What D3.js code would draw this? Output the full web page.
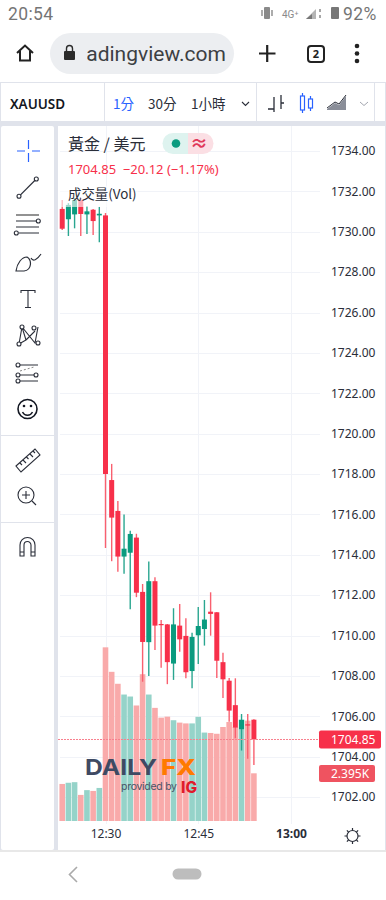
<!DOCTYPE html>
<html>
<head>
<meta charset="utf-8">
<script src="https://cdn.jsdelivr.net/npm/d3@7/dist/d3.min.js"></script>
<style>
  html, body { margin: 0; padding: 0; background: #fff; }
  svg { display: block; font-family: "Noto Sans", "Noto Sans CJK TC", sans-serif; }
</style>
</head>
<body>
<div id="chart"></div>
<script>
//*************************1. Data
const times = ["12:23","12:24","12:25","12:26","12:27","12:28","12:29","12:30","12:31","12:32","12:33","12:34","12:35","12:36","12:37","12:38","12:39","12:40","12:41","12:42","12:43","12:44","12:45","12:46","12:47","12:48","12:49","12:50","12:51","12:52","12:53","12:54"]
const opens = [1731.13,1730.62,1730.86,1731.57,1730.86,1731.09,1730.81,1730.81,1717.70,1716.17,1713.91,1714.10,1714.85,1712.16,1709.67,1712.69,1710.57,1710.55,1708.61,1710.49,1709.98,1708.24,1710.01,1710.32,1711.18,1711.15,1708.68,1707.76,1706.55,1705.36,1705.60,1705.83]
const highs = [1731.57,1731.42,1731.67,1731.67,1731.28,1731.13,1731.23,1730.93,1718.50,1716.66,1715.99,1715.19,1715.04,1712.55,1713.66,1712.89,1710.77,1710.57,1711.35,1711.56,1710.85,1710.14,1711.41,1711.76,1712.14,1711.17,1709.14,1707.90,1707.88,1706.11,1706.11,1705.85]
const lows = [1730.09,1729.79,1730.17,1729.79,1729.89,1729.84,1729.48,1714.34,1713.68,1713.16,1713.06,1711.30,1711.90,1707.71,1708.00,1709.28,1708.40,1707.59,1707.80,1709.20,1707.88,1707.39,1708.59,1709.50,1709.99,1707.90,1706.91,1705.73,1704.91,1704.30,1703.89,1703.59]
const closes = [1730.15,1731.33,1731.57,1730.88,1731.01,1730.53,1730.89,1718.00,1715.84,1713.91,1714.30,1715.03,1712.12,1709.68,1712.69,1710.49,1710.51,1708.68,1710.55,1709.81,1708.18,1709.93,1710.47,1710.79,1711.07,1708.75,1707.83,1706.28,1705.44,1705.82,1705.54,1704.85]
const volumes = [1.86,1.92,1.95,1.31,1.55,1.51,1.66,8.72,7.49,6.89,6.35,6.25,5.80,7.37,6.35,5.68,5.19,5.24,5.06,4.94,4.90,4.90,5.23,4.44,4.42,4.38,4.72,4.97,4.72,5.09,5.04,2.395]
const priceTicks = [1734,1732,1730,1728,1726,1724,1722,1720,1718,1716,1714,1712,1710,1708,1706,1704,1702]
const timeTicks = ["12:30","12:45","13:00"]
const lastPrice = 1704.85
const lastVolume = "2.395K"

const RED = "#f7304a"
const GREEN = "#0a9b7f"
const WICK_RED = "#f9606f"
const WICK_GREEN = "#2aa690"
const VOL_RED = "#f9aaaa"
const VOL_GREEN = "#95d3c9"
const GRID = "#f1f3f8"
const BAND = "#e0e3eb"
const INK = "#2a2e39"

//*************************2. Wrapper
const wrapper = d3.select("#chart").append("svg")
    .attr("width", 386)
    .attr("height", 900)
    .attr("viewBox", "0 0 386 900")

wrapper.append("rect").attr("width", 386).attr("height", 900).attr("fill", "#fff")

const addText = (parent, x, y, str, size, fill, extra = {}) => {
    const t = parent.append("text").attr("x", x).attr("y", y)
        .attr("font-size", size).attr("fill", fill).text(str)
    Object.entries(extra).forEach(([k, v]) => t.attr(k, v))
    return t
}
const stroke = (parent, d, color = INK, w = 1.2) => parent.append("path")
    .attr("d", d).attr("fill", "none").attr("stroke", color).attr("stroke-width", w)
const ring = (parent, cx, cy, r, color = INK, w = 1.1) => parent.append("circle")
    .attr("cx", cx).attr("cy", cy).attr("r", r)
    .attr("fill", "#fff").attr("stroke", color).attr("stroke-width", w)

//*************************3. Phone + browser chrome
const chrome = wrapper.append("g")
addText(chrome, 8, 20, "20:54", 17.5, "#757575", { "font-family": "Roboto", "letter-spacing": 0.4 })
stroke(chrome, "M262 10v6M272 10v6", "#8a8a8a", 1.4)
chrome.append("rect").attr("x", 264).attr("y", 7).attr("width", 6).attr("height", 12).attr("rx", 1).attr("fill", "#8a8a8a")
addText(chrome, 282, 18, "4G⁺", 10, "#8a8a8a", { "font-family": "Roboto" })
chrome.append("path").attr("d", "M306 19 L316 19 L316 9 Z").attr("fill", "#b5b5b5")
chrome.append("path").attr("d", "M306 19 L312 19 L312 14 Z").attr("fill", "#777")
stroke(chrome, "M320 9v3M320 15v3", "#8a8a8a", 1.5)
chrome.append("rect").attr("x", 331).attr("y", 7).attr("width", 8).attr("height", 12).attr("rx", 1).attr("fill", "#777")
addText(chrome, 343, 20, "92%", 17.5, "#757575", { "font-family": "Roboto", "letter-spacing": 0.4 })

chrome.append("rect").attr("x", 50).attr("y", 33).attr("width", 184).attr("height", 41).attr("rx", 20.5).attr("fill", "#eceef1")
stroke(chrome, "M17 53 L25 45.5 L33 53 M20 51 V60.5 H30 V51", "#222", 2)
chrome.append("rect").attr("x", 64).attr("y", 51).attr("width", 11).attr("height", 9).attr("rx", 1).attr("fill", "#2b2b2b")
stroke(chrome, "M66.5 51 V48.5 a3 3 0 0 1 6 0 V51", "#2b2b2b", 1.4)
const urlClip = wrapper.append("clipPath").attr("id", "urlClip")
urlClip.append("rect").attr("x", 87).attr("y", 36).attr("width", 142).attr("height", 34)
addText(chrome, 79.5, 61, "radingview.com", 21, "#3c4043", { "clip-path": "url(#urlClip)", "font-family": "Roboto" })
stroke(chrome, "M259 53.5 H275.5 M267.2 45 V62", "#222", 2.2)
chrome.append("rect").attr("x", 308).attr("y", 46).attr("width", 16).attr("height", 16).attr("rx", 3)
    .attr("fill", "none").attr("stroke", "#222").attr("stroke-width", 2)
addText(chrome, 316, 58, "2", 11, "#222", { "text-anchor": "middle", "font-weight": 700 })
chrome.selectAll(".dot").data([46, 53.5, 61]).join("circle")
    .attr("cx", 357).attr("cy", d => d).attr("r", 2.3).attr("fill", "#222")

// bottom navigation
wrapper.append("rect").attr("x", 0).attr("y", 850).attr("width", 386).attr("height", 2).attr("fill", "#e8e8e8")
stroke(chrome, "M77 867 L69.5 874.5 L77 882", "#aaa", 1.6)
chrome.append("rect").attr("x", 172.5).attr("y", 868.5).attr("width", 29).attr("height", 11).attr("rx", 5.5).attr("fill", "#bdbdbd")

//*************************4. Toolbars
wrapper.append("rect").attr("x", 0).attr("y", 82).attr("width", 386).attr("height", 768).attr("fill", BAND)
wrapper.append("rect").attr("x", 1).attr("y", 83).attr("width", 384).attr("height", 38).attr("fill", "#fff")
wrapper.append("rect").attr("x", 1).attr("y", 126).attr("width", 53).attr("height", 724).attr("rx", 2).attr("fill", "#fff")
wrapper.append("rect").attr("x", 58).attr("y", 126).attr("width", 327).attr("height", 724).attr("fill", "#fff")

const top_ = wrapper.append("g")
stroke(top_, "M104.5 83V121M256.5 83V121M374.5 83V121", BAND, 1)
addText(top_, 10, 109, "XAUUSD", 13.5, "#131722", { "font-weight": 600 })
addText(top_, 113, 109, "1分", 13.5, "#2962ff", { "font-family": "Noto Sans CJK TC" })
addText(top_, 148, 109, "30分", 13.5, INK, { "font-family": "Noto Sans CJK TC" })
addText(top_, 191, 109, "1小時", 13.5, INK, { "font-family": "Noto Sans CJK TC" })
stroke(top_, "M242 102 L245.5 105.5 L249 102", INK, 1.1)
stroke(top_, "M274 97V112M268 109H274M281 95V109M281 103H284", INK, 1.3)
top_.append("rect").attr("x", 300.5).attr("y", 96).attr("width", 4).attr("height", 14).attr("fill", "none").attr("stroke", "#2962ff").attr("stroke-width", 1.2)
top_.append("rect").attr("x", 308.5).attr("y", 99).attr("width", 4).attr("height", 9).attr("fill", "none").attr("stroke", "#2962ff").attr("stroke-width", 1.2)
stroke(top_, "M302.5 93V96M302.5 110V113M310.5 96V99M310.5 108V111", "#2962ff", 1.2)
top_.append("path").attr("d", "M327 109 L335 103 L339 105 L346 96 V110 H327 Z").attr("fill", "#8a8e99")
stroke(top_, "M327 108 L335 102 L339 104 L346 95", INK, 1)
stroke(top_, "M360 102 L364 105.5 L368 102", "#a3a6af", 1)

const tools = wrapper.append("g")
stroke(tools, "M28.5 140V149M28.5 153V162M17 151H25M32 151H40", "#2962ff", 1.2)
stroke(tools, "M19 196.3 L36.3 179")
ring(tools, 19, 196.3, 2); ring(tools, 36.3, 179, 2)
stroke(tools, "M16 215H39", "#777", 1.6)
stroke(tools, "M16 221H36M16 227H39M19 233H39")
ring(tools, 38.3, 221, 2); ring(tools, 16.3, 233, 2)
stroke(tools, "M16 271 C17 263 22 257 27 257 C32 260 32 270 24 271 Z M31 258 C33 262 37 260 41 254")
stroke(tools, "M21 293 V290.5 H35 V293 M28 290.5 V307 M25 307.5 H31", INK, 1.1)
stroke(tools, "M19 344 L22 327 L35 343 L38 327 M22 327 L26 340 L19 344 M35 331 L26 340", INK, 1.1)
ring(tools, 19, 344, 2); ring(tools, 22, 327, 2); ring(tools, 38, 343, 2); ring(tools, 34, 328, 2)
stroke(tools, "M18 365H38M18 381H38M18 375H36", INK, 1.1)
tools.append("path").attr("d", "M20 371 L34 367").attr("stroke", "#888").attr("stroke-dasharray", "2 2").attr("stroke-width", 1)
ring(tools, 18, 365, 2); ring(tools, 36, 375, 2); ring(tools, 18, 375, 2); ring(tools, 18, 381, 2)
tools.append("circle").attr("cx", 27.5).attr("cy", 409).attr("r", 9.5).attr("fill", "none").attr("stroke", "#131722").attr("stroke-width", 1.6)
tools.selectAll(".eye").data([24, 31]).join("circle").attr("cx", d => d).attr("cy", 406).attr("r", 1.3).attr("fill", "#131722")
stroke(tools, "M22.5 412 A5.5 5.5 0 0 0 32.5 412", "#131722", 1.4)
stroke(tools, "M1 435.5H54M1 522.5H54", BAND, 1)
stroke(tools, "M16 466 L35 449 L40 455 L21 472 Z M20 463l2 2M23 460l3 3M26.5 457l2 2M30 454l3 3M33 451l2 2", INK, 1.1)
tools.append("circle").attr("cx", 26).attr("cy", 495).attr("r", 8).attr("fill", "none").attr("stroke", INK).attr("stroke-width", 1.1)
stroke(tools, "M22 495H30M26 491V499M32 501L36 505", INK, 1.1)
stroke(tools, "M20 556V545 a7.5 7.5 0 0 1 15 0 V556 H31 V545 a3.5 3.5 0 0 0 -7 0 V556 Z M20 552H24M31 552H35", INK, 1.1)

//*************************5. Scales
const parseTime = d3.timeParse("%H:%M")
const formatTime = d3.timeFormat("%H:%M")

const timeScale = d3.scaleTime()
    .domain([parseTime("12:30"), parseTime("13:00")])
    .range([105.5, 291])

const priceScale = d3.scaleLinear()
    .domain([1702, 1734])
    .range([797, 151])

const volumeScale = d3.scaleLinear()
    .domain([0, 2.395])
    .range([821, 773.3])

const bars = times.map((t, i) => ({
    time: parseTime(t), open: opens[i], high: highs[i], low: lows[i], close: closes[i], volume: volumes[i],
    up: closes[i] >= opens[i]
}))

//*************************6. Grid + axes
const bounds = wrapper.append("g")

bounds.append("g").selectAll("line").data(priceTicks).join("line")
    .attr("x1", 60).attr("x2", 320)
    .attr("y1", d => Math.round(priceScale(d)) + 0.5).attr("y2", d => Math.round(priceScale(d)) + 0.5)
    .attr("stroke", GRID)

bounds.append("g").selectAll("line").data(timeTicks).join("line")
    .attr("x1", d => Math.round(timeScale(parseTime(d))) + 0.5).attr("x2", d => Math.round(timeScale(parseTime(d))) + 0.5)
    .attr("y1", 126).attr("y2", 824)
    .attr("stroke", GRID)

const priceAxis = d3.axisRight(priceScale)
    .tickValues(priceTicks)
    .tickSize(0)
    .tickPadding(0)
    .tickFormat(d3.format(".2f"))

const priceAxisG = bounds.append("g")
    .attr("transform", "translate(331,0)")
    .call(priceAxis)
priceAxisG.select(".domain").remove()
priceAxisG.selectAll("text")
    .attr("font-size", 12).attr("font-family", "Noto Sans").attr("fill", INK)

const timeAxis = d3.axisBottom(timeScale)
    .tickValues(timeTicks.map(parseTime))
    .tickSize(0)
    .tickPadding(0)
    .tickFormat(formatTime)

const timeAxisG = bounds.append("g")
    .attr("transform", "translate(0,829)")
    .call(timeAxis)
timeAxisG.select(".domain").remove()
timeAxisG.selectAll("text")
    .attr("font-size", 12).attr("font-family", "Noto Sans").attr("fill", INK)
    .attr("font-weight", d => formatTime(d) === "13:00" ? 700 : 400)

// gear
const gear = wrapper.append("g").attr("transform", "translate(352.5,836)")
gear.append("circle").attr("r", 5.5).attr("fill", "none").attr("stroke", INK).attr("stroke-width", 1.2)
stroke(gear, "M0 -8V-5.5M0 8V5.5M-8 0H-5.5M8 0H5.5M-5.6 -5.6L-4 -4M5.6 -5.6L4 -4M-5.6 5.6L-4 4M5.6 5.6L4 4", INK, 1.2)

//*************************7. Volume + candles
const barWidth = 5

bounds.append("g").selectAll("rect").data(bars).join("rect")
    .attr("x", d => timeScale(d.time) - barWidth / 2 - 0.3)
    .attr("width", barWidth + 0.6)
    .attr("y", d => volumeScale(d.volume))
    .attr("height", d => volumeScale(0) - volumeScale(d.volume))
    .attr("fill", d => d.up ? VOL_GREEN : VOL_RED)

const candles = bounds.append("g")

candles.selectAll("line").data(bars).join("line")
    .attr("x1", d => timeScale(d.time)).attr("x2", d => timeScale(d.time))
    .attr("y1", d => priceScale(d.high)).attr("y2", d => priceScale(d.low))
    .attr("stroke", d => d.up ? WICK_GREEN : WICK_RED)
    .attr("stroke-width", 1.4)

candles.selectAll("rect").data(bars).join("rect")
    .attr("x", d => timeScale(d.time) - barWidth / 2)
    .attr("width", barWidth)
    .attr("y", d => priceScale(Math.max(d.open, d.close)))
    .attr("height", d => Math.max(1, Math.abs(priceScale(d.open) - priceScale(d.close))))
    .attr("fill", d => d.up ? GREEN : RED)

// last price line
bounds.append("line")
    .attr("x1", 58).attr("x2", 319)
    .attr("y1", Math.round(priceScale(lastPrice)) + 0.5).attr("y2", Math.round(priceScale(lastPrice)) + 0.5)
    .attr("stroke", "#f8808e").attr("stroke-width", 1.2).attr("stroke-dasharray", "2 1")

//*************************8. Watermark + legend
const logo = wrapper.append("g")
addText(logo, 85, 775, "DAILY", 22, "#3f4a63", { "font-weight": 700, "font-family": "Inter", "textLength": 72, "lengthAdjust": "spacingAndGlyphs" })
addText(logo, 161, 775, "FX", 22, "#ff7a00", { "font-weight": 800, "font-family": "Inter", "textLength": 35, "lengthAdjust": "spacingAndGlyphs" })
addText(logo, 121, 790, "provided by", 10.5, "#4a5468", { "font-family": "Inter", "textLength": 56 })
addText(logo, 181, 793, "IG", 15.5, "#e01a2b", { "font-weight": 800, "font-family": "Inter" })

wrapper.append("rect").attr("x", 60).attr("y", 186).attr("width", 78).attr("height", 21)
    .attr("fill", "#fff").attr("fill-opacity", 0.6)

const legend = wrapper.append("g")
addText(legend, 68, 150, "黃金 / 美元", 16, INK, { "font-family": "Noto Sans CJK TC" })
addText(legend, 68, 174, "1704.85  −20.12 (−1.17%)", 13, RED, { "font-family": "Noto Sans", "xml:space": "preserve" })
addText(legend, 68, 199, "成交量(Vol)", 13.4, INK, { "font-family": "Noto Sans CJK TC" })
legend.append("path").attr("d", "M188 133 H173 a10.5 10.5 0 0 0 0 21 H188 Z").attr("fill", "#def3ef")
legend.append("path").attr("d", "M188 133 H203 a10.5 10.5 0 0 1 0 21 H188 Z").attr("fill", "#fbdfe4")
legend.append("circle").attr("cx", 176).attr("cy", 143.5).attr("r", 4.3).attr("fill", GREEN)
addText(legend, 199, 150, "≈", 18, "#e0395a", { "text-anchor": "middle", "font-weight": 700 })

//*************************9. Price tags
const tags = wrapper.append("g")
tags.append("rect").attr("x", 319).attr("y", priceScale(lastPrice) - 9).attr("width", 62).attr("height", 18).attr("rx", 2).attr("fill", RED)
addText(tags, 331, priceScale(lastPrice) + 4.5, d3.format(".2f")(lastPrice), 12, "#fff", { "font-family": "Noto Sans" })
tags.append("rect").attr("x", 319).attr("y", 765).attr("width", 56).attr("height", 17).attr("rx", 2).attr("fill", "#ef5360")
addText(tags, 331, 778, lastVolume, 12, "#fff", { "font-family": "Noto Sans" })
</script>
</body>
</html>
